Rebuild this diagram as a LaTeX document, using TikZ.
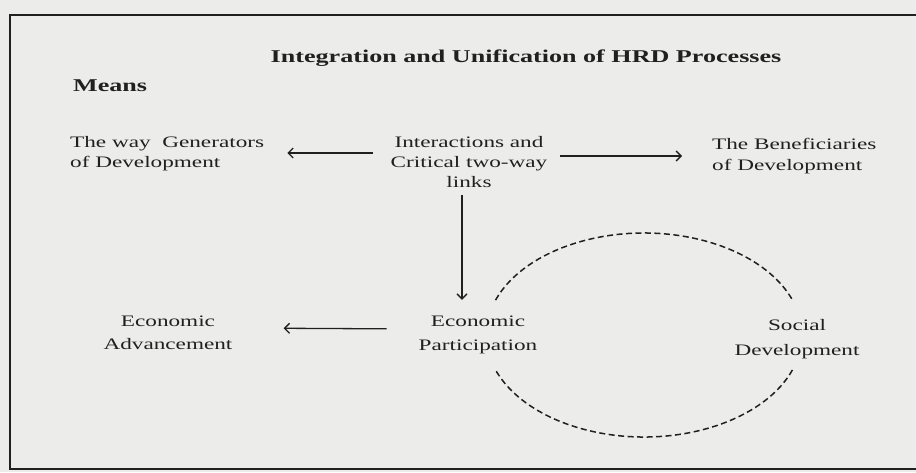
\documentclass[tikz,border=0pt]{standalone}
\usepackage{fontspec}
\setmainfont{Liberation Serif}
\usepackage{graphicx}
\usetikzlibrary{arrows.meta}
\definecolor{paper}{RGB}{236,236,234}
\definecolor{ink}{RGB}{32,32,32}
\newcommand{\wtext}[3]{\scalebox{1.45}[1]{\fontsize{16}{#1}\selectfont\begin{tabular}{@{}#2@{}}#3\end{tabular}}}
\newcommand{\wbold}[1]{\scalebox{1.45}[1]{\fontsize{18}{22}\selectfont\bfseries #1}}
\begin{document}
\begin{tikzpicture}[x=1pt,y=-1pt,
  lbl/.style={inner sep=0pt, text=ink},
  arr/.style={draw=ink, line width=1.3pt, -{Straight Barb[length=5pt,width=10pt,line width=1.3pt]}},
  frame/.style={draw=ink, line width=1.8pt},
  ring/.style={draw=ink, line width=1.5pt, dash pattern=on 6pt off 3.5pt}]
\useasboundingbox (0,0) rectangle (916,472);
\fill[paper] (0,0) rectangle (916,472);
% frame
\draw[frame] (916,15) -- (10,15) -- (10,469) -- (916,469);
% texts
\node[lbl] (title) at (526,58) {\wbold{Integration and Unification of HRD Processes}};
\node[lbl, anchor=west] (means) at (73,86) {\wbold{Means}};
\node[lbl, anchor=west] (waygen) at (70,153) {\wtext{20}{l}{The way\ \ Generators\\of Development}};
\node[lbl] (inter) at (469,163) {\wtext{20}{c}{Interactions and\\Critical two-way\\links}};
\node[lbl, anchor=west] (benef) at (712,156) {\wtext{21}{l}{The Beneficiaries\\of Development}};
\node[lbl] (econp) at (478,334) {\wtext{24}{c}{Economic\\Participation}};
\node[lbl] (econadv) at (168,333) {\wtext{23}{c}{Economic\\Advancement}};
\node[lbl] (social) at (797,338) {\wtext{25}{c}{Social\\Development}};
% connectors
\draw[arr, shorten <=18pt, shorten >=23pt] (inter.west |- waygen.east) -- (waygen.east);
\draw[arr, shorten <=13pt, shorten >=30pt] (inter.east |- benef.west) -- (benef.west);
\draw[arr, shorten <=2pt, shorten >=10pt] ([xshift=-7pt]inter.south) -- ([xshift=-16pt]econp.north);
\draw[arr, shorten <=32pt, shorten >=51pt] ([yshift=5pt]econp.west) -- ([yshift=5pt]econadv.east);
% dashed ellipse with gaps for the labels
\coordinate (ell) at (644,335);
\draw[ring] (ell) ++(200:158 and 102) arc[start angle=200, end angle=340, x radius=158, y radius=102];
\draw[ring] (ell) ++(20:158 and 102) arc[start angle=20, end angle=160, x radius=158, y radius=102];
\end{tikzpicture}
\end{document}
